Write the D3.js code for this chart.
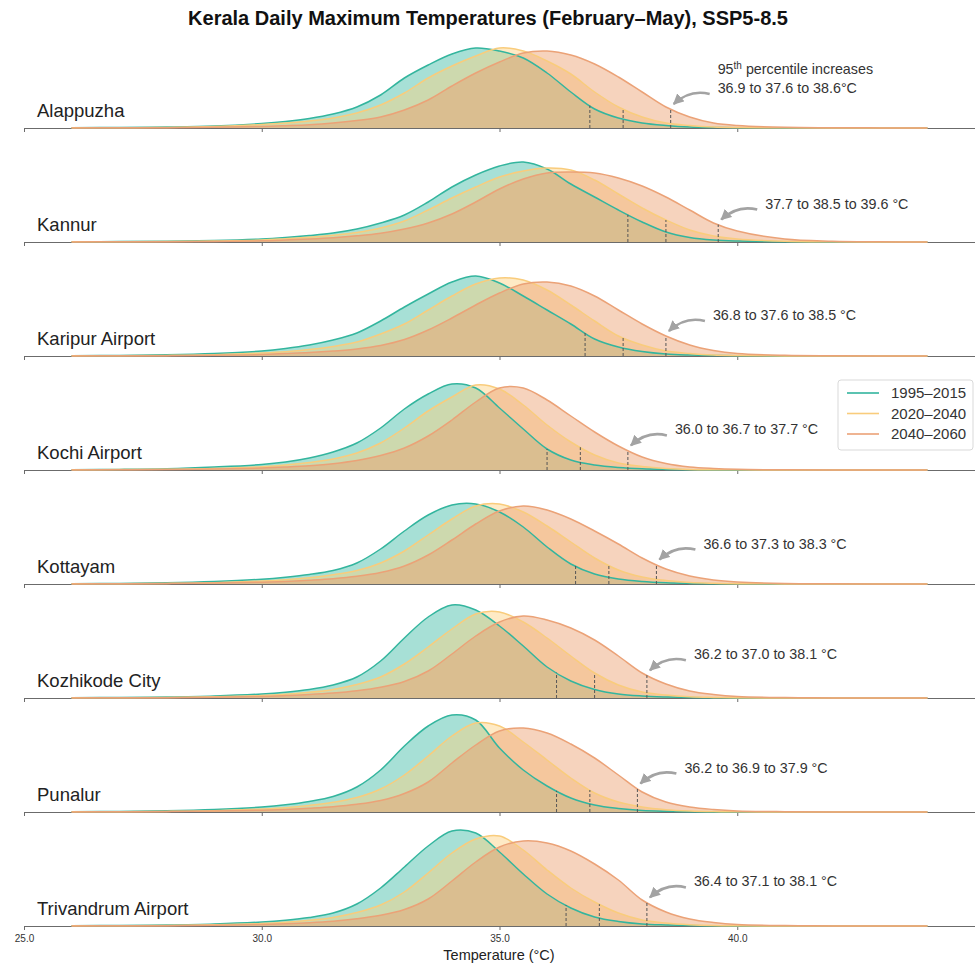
<!DOCTYPE html>
<html><head><meta charset="utf-8">
<script src="https://cdn.jsdelivr.net/npm/d3@7"></script>
<style>
body{margin:0;background:#fff}
svg{display:block}
text{font-family:"Liberation Sans",Arial,Helvetica,sans-serif}
</style>
</head><body>
<svg id="chart" width="975" height="964"></svg>
<script>
// ---------------- data ----------------
const chartTitle = "Kerala Daily Maximum Temperatures (February\u2013May), SSP5-8.5";
const xAxisTitle = "Temperature (\u00B0C)";
const stations = ["Alappuzha","Kannur","Karipur Airport","Kochi Airport","Kottayam","Kozhikode City","Punalur","Trivandrum Airport"];
const periods = ["1995\u20132015","2020\u20132040","2040\u20132060"];
const xTicks = [25, 30, 35, 40];
// temperature grid (°C) for the density estimates
const temps = [26,27,28,29,30,30.5,31,31.5,32,32.5,33,33.5,34,34.5,35,35.5,36,36.5,37,37.5,38,38.5,39,39.5,40,41,42,43,44];
// relative density per period (1995–2015, 2020–2040, 2040–2060)
const alappuzha = [
  [0.3,0.5,1,2,4.5,6.5,9.5,14,21,33,50,63,74,80,77,70,55,36,19,10,5,2.5,1,0.5,0.3,0.1,0,0,0],
  [0.2,0.3,0.5,1.5,3.5,5,7,10,15,23,35,50,62,72,80,77,67,54,36,21,11,5,2.5,1,0.5,0.2,0,0,0],
  [0.1,0.2,0.3,0.8,1.5,2.3,3.3,5,7.5,11,18,28,42,55,66,75,77,73,64,51,36,21,11,5,2.5,0.7,0.3,0.1,0]
];
const kannur = [
  [0.2,0.4,0.8,1.5,3,4.5,6.5,9,13,19,27,40,55,67,76,80,73,58,45,32,20,10,4.5,2,1,0.3,0,0,0],
  [0.2,0.3,0.5,1,2,3.3,4.8,6.8,9.5,14,21,32,44,55,65,71,74,72,62,48,34,22,12,6,3,0.8,0.2,0,0],
  [0.1,0.2,0.3,0.6,1.2,2,3,4.3,6.2,8.8,13,19,28,40,53,63,69,70,69,64,56,45,32,19,11,3,0.8,0.2,0]
];
const karipur = [
  [0.3,0.6,1.2,2.5,5,7.5,11,16,23,35,49,62,74,80,73,60,46,32,17,9,4.5,2,1,0.5,0.2,0.1,0,0,0],
  [0.2,0.3,0.6,1.3,3,4.3,6.5,9.5,14,22,32,46,60,72,78,76,66,51,35,20,11,5,2.5,1,0.5,0.1,0,0,0],
  [0.1,0.2,0.3,0.8,1.5,2.4,3.4,4.9,7,10.5,16.5,26,38,51,63,72,74,70,60,46,32,20,11,5.5,2.5,0.7,0.2,0,0]
];
const kochi = [
  [0.3,0.6,1.3,3,5.5,8,12,18,27,42,61,76,86,82,62,41,21,10,5,2.5,1.2,0.6,0.3,0.1,0.1,0,0,0,0],
  [0.2,0.4,0.7,1.5,3.3,5,7.5,11,17,27,42,59,73,85,81,65,45,28,15,7,3.5,1.5,0.6,0.3,0.2,0,0,0,0],
  [0.1,0.2,0.4,1,2,3,4.3,6.3,9.5,14.5,22,34,50,68,82,82,70,54,38,24,13,6.5,3,1.5,0.7,0.2,0,0,0]
];
const kottayam = [
  [0.3,0.6,1.2,2.5,4.8,6.8,9.5,13.5,21,35,53,69,79,80,72,57,37,20,10,5,2.5,1.2,0.6,0.3,0.2,0,0,0,0],
  [0.2,0.3,0.6,1.3,3,4.3,6.3,9.2,13.5,21,33,49,65,78,80,72,58,42,26,14,7,3.5,1.5,0.7,0.3,0.1,0,0,0],
  [0.1,0.2,0.4,0.9,1.8,2.6,3.8,5.3,7.7,11.5,18,29,44,60,73,78,74,65,53,40,26,15,8,4,2,0.5,0.15,0,0]
];
const kozhikode = [
  [0.3,0.5,1,2,4,5.8,8.5,13,21,37,60,81,93,88,72,52,31,17,8.5,4,2,1,0.4,0.2,0.1,0,0,0,0],
  [0.2,0.3,0.5,1.2,2.5,3.8,5.7,8.6,13.5,21,34,51,69,84,86,76,60,42,25,13,6,3,1.3,0.6,0.2,0,0,0,0],
  [0.1,0.2,0.3,0.8,1.6,2.4,3.4,4.9,7.2,10.7,16.5,27,44,62,76,82,78,70,58,42,25,14,7,3.5,1.5,0.4,0.1,0,0]
];
const punalur = [
  [0.3,0.6,1.2,2.5,5,7.2,10.5,15.5,25,42,66,86,97,92,64,42,26,14,7,3.5,1.5,0.7,0.3,0.1,0.1,0,0,0,0],
  [0.2,0.3,0.6,1.3,3,4.3,6.6,9.7,14.5,23,37,56,76,89,86,70,52,34,19,10,5,2.3,1,0.4,0.2,0,0,0,0],
  [0.1,0.2,0.4,0.9,1.8,2.6,3.8,5.3,7.7,11.5,18.5,30,49,67,81,84,79,68,54,37,20,10,5,2.5,1.1,0.3,0,0,0]
];
const trivandrum = [
  [0.3,0.5,1,2,4,5.8,8.5,13,22,38,59,80,95,93,74,52,32,18,9,4.5,2,1,0.4,0.2,0.1,0,0,0,0],
  [0.2,0.3,0.5,1.2,2.5,3.8,5.7,8.6,13.5,21,34,53,73,87,90,76,56,38,24,13,6,3,1.3,0.5,0.2,0,0,0,0],
  [0.1,0.2,0.3,0.8,1.6,2.3,3.3,4.8,7.2,10.7,16.5,27,45,64,79,85,83,75,62,46,26,14,7,3.5,1.5,0.4,0.1,0,0]
];
const densities = [alappuzha, kannur, karipur, kochi, kottayam, kozhikode, punalur, trivandrum];
// 95th percentiles (°C) per station per period
const p95 = [
  [36.9,37.6,38.6],[37.7,38.5,39.6],[36.8,37.6,38.5],[36.0,36.7,37.7],
  [36.6,37.3,38.3],[36.2,37.0,38.1],[36.2,36.9,37.9],[36.4,37.1,38.1]
];

// ---------------- styling / layout ----------------
const lineColors = ["#33b59e","#f9cc7c","#eba277"];
const fillColors = ["#3cbba5","#fdd07f","#ec9d6c"];
const fillOpacity = 0.45;

const svg = d3.select("#chart");
const x = d3.scaleLinear().domain([25, 45]).range([24, 975]);
const baseY = d3.scalePoint().domain(stations).range([128, 926]);
const h = d3.scaleLinear().domain([0, 100]).range([0, 100]);
const curve = d3.curveCatmullRom.alpha(0.5);

svg.append("text")
  .attr("x", 488).attr("y", 25)
  .attr("text-anchor", "middle")
  .attr("font-size", 20).attr("font-weight", "bold").attr("fill", "#111")
  .text(chartTitle);

function densAt(arr, t) {
  const i = d3.bisectRight(temps, t) - 1;
  const t0 = temps[i], t1 = temps[i + 1];
  const f = (t - t0) / (t1 - t0);
  return arr[i] + f * (arr[i + 1] - arr[i]);
}

// arrowhead marker
svg.append("defs").append("marker")
  .attr("id", "ah").attr("viewBox", "0 0 10 10")
  .attr("refX", 9).attr("refY", 5)
  .attr("markerWidth", 4.2).attr("markerHeight", 4.2)
  .attr("markerUnits", "strokeWidth")
  .attr("orient", "auto")
  .append("path").attr("d", "M0,0 L10,5 L0,10 Z").attr("fill", "#a3a3a3");

stations.forEach((name, si) => {
  const b = baseY(name);
  const g = svg.append("g");
  const series = densities[si];

  const area = d3.area()
    .x((d, i) => x(temps[i]))
    .y0(b)
    .y1(d => b - h(Math.max(0, d)))
    .curve(curve);
  const line = d3.line()
    .x((d, i) => x(temps[i]))
    .y(d => b - h(d))
    .curve(curve);

  // axis
  const axis = d3.axisBottom(x).tickValues(xTicks).tickSizeInner(4).tickSizeOuter(0)
    .tickFormat(si === stations.length - 1 ? d3.format(".1f") : () => "");
  const ag = g.append("g").attr("transform", `translate(0,${b})`).call(axis);
  ag.select(".domain").attr("stroke", "#6b6b6b").attr("stroke-width", 1);
  ag.selectAll(".tick line").attr("stroke", "#6b6b6b");
  ag.selectAll(".tick text").attr("font-size", 10).attr("fill", "#333")
    .attr("font-family", "'Liberation Sans Narrow','Liberation Sans',Arial,sans-serif").attr("dy", "0.9em");

  series.forEach((s, k) => {
    g.append("path").datum(s).attr("d", area)
      .attr("fill", fillColors[k]).attr("fill-opacity", fillOpacity).attr("stroke", "none");
  });
  series.forEach((s, k) => {
    g.append("path").datum(s).attr("d", line)
      .attr("fill", "none").attr("stroke", lineColors[k]).attr("stroke-width", 1.5);
  });

  // 95th percentile markers
  p95[si].forEach((p, k) => {
    g.append("line")
      .attr("x1", x(p)).attr("x2", x(p))
      .attr("y1", b).attr("y2", b - h(densAt(series[k], p)))
      .attr("stroke", "#555").attr("stroke-width", 1).attr("stroke-dasharray", "3,2");
  });

  // station label
  g.append("text").attr("x", 37).attr("y", b - 11)
    .attr("font-size", 18.5).attr("fill", "#222").text(name);

  // annotation
  const pf = p95[si][2];
  const px = x(pf);
  const cy = b - h(densAt(series[2], pf));
  const tx = px + 47;
  const ty = cy - 16;
  const label = `${p95[si][0].toFixed(1)} to ${p95[si][1].toFixed(1)} to ${p95[si][2].toFixed(1)}` + (si === 0 ? "\u00B0C" : " \u00B0C");
  g.append("text").attr("x", tx).attr("y", ty).attr("font-size", 14.3).attr("fill", "#333").text(label);
  if (si === 0) {
    const t1 = g.append("text").attr("x", tx).attr("y", ty - 19).attr("font-size", 14.3).attr("fill", "#333");
    t1.append("tspan").text("95");
    t1.append("tspan").attr("font-size", 10).attr("dy", -5).text("th");
    t1.append("tspan").attr("dy", 5).text(" percentile increases");
  }
  const sx = tx - 8, sy = ty + 1;
  const ex = px + 3, ey = cy - 5;
  const cx = sx - 0.55 * (sx - ex), cyy = sy - 5;
  g.append("path")
    .attr("d", `M${sx},${sy} Q${cx},${cyy} ${ex},${ey}`)
    .attr("fill", "none").attr("stroke", "#a3a3a3").attr("stroke-width", 2.6)
    .attr("marker-end", "url(#ah)");
});

// x axis title
svg.append("text").attr("x", 499).attr("y", 960)
  .attr("text-anchor", "middle").attr("font-size", 14.5).attr("fill", "#222")
  .text(xAxisTitle);

// legend
const lg = svg.append("g").attr("transform", "translate(838,380)");
lg.append("rect").attr("width", 135).attr("height", 70).attr("rx", 3)
  .attr("fill", "#fff").attr("fill-opacity", 0.85).attr("stroke", "#d9d9d9");
periods.forEach((p, k) => {
  const yy = 13 + k * 20.5;
  lg.append("line").attr("x1", 9).attr("x2", 41).attr("y1", yy).attr("y2", yy)
    .attr("stroke", lineColors[k]).attr("stroke-width", 1.6);
  lg.append("text").attr("x", 53).attr("y", yy + 5).attr("font-size", 15).attr("fill", "#333").text(p);
});
</script>
</body></html>
